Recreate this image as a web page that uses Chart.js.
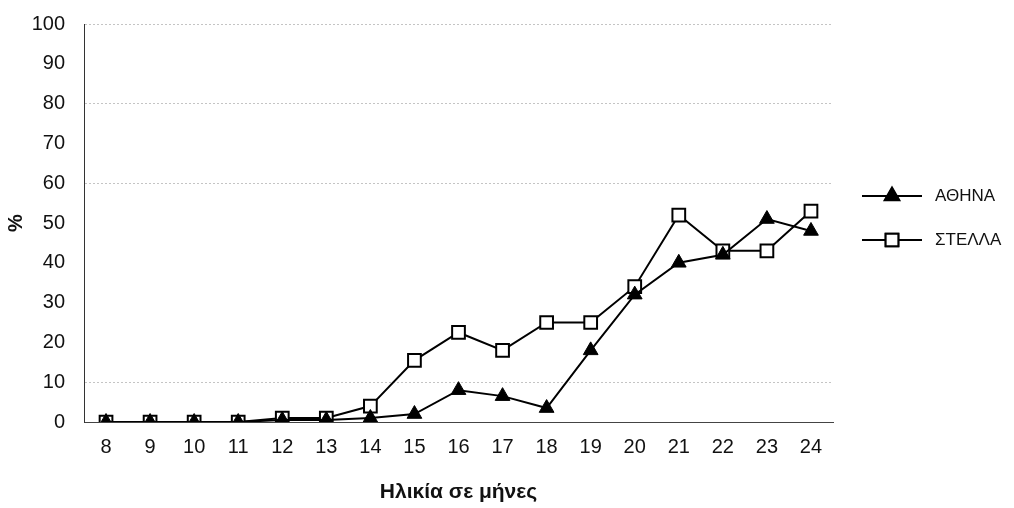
<!DOCTYPE html>
<html>
<head>
<meta charset="utf-8">
<script src="https://cdn.jsdelivr.net/npm/chart.js@4/dist/chart.umd.min.js"></script>
<style>
  html, body { margin: 0; padding: 0; background: #fff; }
  #wrap { width: 1014px; height: 508px; position: relative; }
</style>
</head>
<body>
<div id="wrap"><canvas id="lineChart" width="1014" height="508"></canvas></div>
<script>
// ηλικία σε μήνες
const months = ['8', '9', '10', '11', '12', '13', '14', '15', '16', '17', '18', '19', '20', '21', '22', '23', '24'];
const athina = [0, 0, 0, 0, 0.5, 0.5, 1, 2, 8, 6.5, 3.5, 18, 32, 40, 42, 51, 48];
const stella = [0, 0, 0, 0, 1, 1, 4, 15.5, 22.5, 18, 25, 25, 34, 52, 43, 43, 53];
const yTicks = [0, 10, 20, 30, 40, 50, 60, 70, 80, 90, 100];
const gridAt = [10, 60, 80, 100];

const FONT = '"Liberation Sans", Arial, sans-serif';

// legend drawn by hand: line + marker, like the Excel one
const sideLegend = {
    id: 'sideLegend',
    afterDraw(chart) {
        const c = chart.ctx;
        const rows = [
            { y: 196, ds: chart.data.datasets[0] },
            { y: 240, ds: chart.data.datasets[1] }
        ];
        c.save();
        rows.forEach(r => {
            c.strokeStyle = '#000';
            c.lineWidth = 2;
            c.beginPath();
            c.moveTo(862, r.y);
            c.lineTo(922, r.y);
            c.stroke();
            Chart.helpers.drawPoint(c, {
                pointStyle: r.ds.pointStyle,
                radius: r.ds.pointRadius,
                borderWidth: r.ds.pointBorderWidth
            }, 892, r.y);
            c.fillStyle = r.ds.pointBackgroundColor;
            c.strokeStyle = '#000';
            c.lineWidth = r.ds.pointBorderWidth;
            c.fill();
            c.stroke();
            c.fillStyle = '#111';
            c.font = '17px ' + FONT;
            c.textBaseline = 'middle';
            c.fillText(r.ds.label, 935, r.y);
        });
        c.restore();
    }
};

document.addEventListener("DOMContentLoaded", () => {
    const ctx = document.getElementById('lineChart').getContext('2d');
    new Chart(ctx, {
        type: 'line',
        data: {
            labels: months,
            datasets: [{
                label: 'ΑΘΗΝΑ',
                data: athina,
                borderColor: '#000',
                borderWidth: 2,
                pointStyle: 'triangle',
                pointRadius: 8.5,
                pointBackgroundColor: '#000',
                pointBorderColor: '#000',
                pointBorderWidth: 1,
                tension: 0
            }, {
                label: 'ΣΤΕΛΛΑ',
                data: stella,
                borderColor: '#000',
                borderWidth: 2,
                pointStyle: 'rect',
                pointRadius: 9,
                pointBackgroundColor: '#fff',
                pointBorderColor: '#000',
                pointBorderWidth: 2,
                tension: 0
            }]
        },
        options: {
            responsive: false,
            animation: false,
            layout: { padding: { left: 0, right: 181, top: 24, bottom: 0 } },
            plugins: {
                legend: { display: false },
                tooltip: { enabled: false }
            },
            scales: {
                x: {
                    offset: true,
                    grid: { display: false, drawTicks: false },
                    border: { color: '#444', width: 1 },
                    ticks: {
                        color: '#111',
                        padding: 13,
                        maxRotation: 0,
                        font: { family: FONT, size: 20 }
                    },
                    title: {
                        display: true,
                        text: 'Ηλικία σε μήνες',
                        color: '#111',
                        padding: { top: 10, bottom: 3 },
                        font: { family: FONT, size: 21, weight: 'bold' }
                    },
                    afterFit(scale) { scale.height = 86; }
                },
                y: {
                    min: 0,
                    max: 100,
                    afterBuildTicks(scale) { scale.ticks = yTicks.map(v => ({ value: v })); },
                    grid: {
                        drawTicks: false,
                        color: c => gridAt.includes(c.tick.value) ? '#c4c4c4' : 'transparent',
                        lineWidth: 1
                    },
                    border: { color: '#333', width: 1, dash: [2, 2] },
                    ticks: {
                        color: '#111',
                        padding: 19,
                        font: { family: FONT, size: 20 }
                    },
                    title: {
                        display: true,
                        text: '%',
                        color: '#111',
                        padding: { top: 4, bottom: 4 },
                        font: { family: FONT, size: 20, weight: 'bold' }
                    },
                    afterFit(scale) {
                        scale.width = 84;
                        scale.paddingTop = 0;
                        scale.paddingBottom = 0;
                    }
                }
            }
        },
        plugins: [sideLegend]
    });
});
</script>
</body>
</html>
